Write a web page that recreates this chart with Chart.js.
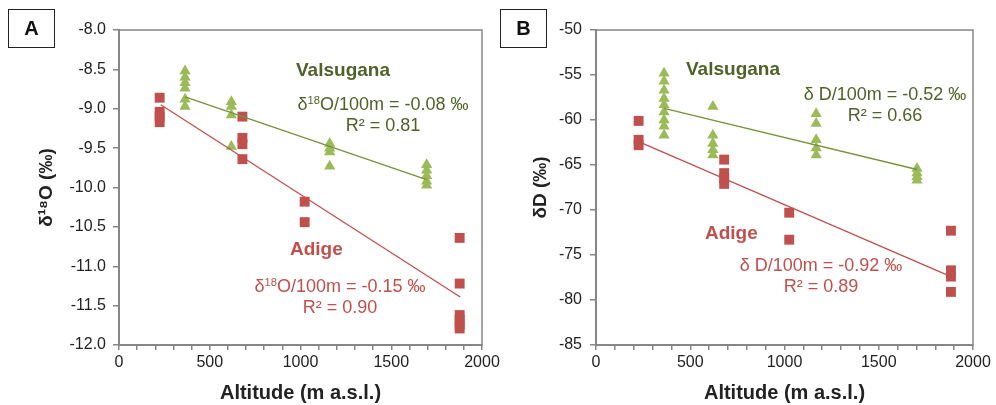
<!DOCTYPE html>
<html>
<head>
<meta charset="utf-8">
<script src="https://cdn.jsdelivr.net/npm/chart.js@4.4.0/dist/chart.umd.min.js"></script>
<style>
  body { margin: 0; background: #fff; font-family: "Liberation Sans", Arial, sans-serif; }
  #wrap { position: relative; width: 996px; height: 405px; overflow: hidden; }
  canvas { position: absolute; top: 0; }
  .tag { position: absolute; top: 9px; width: 47px; height: 39px; box-sizing: border-box; border: 1px solid #222;
         font-weight: bold; font-size: 20px; line-height: 37px; text-align: center; color: #111; }
  .name { position: absolute; font-weight: bold; font-size: 19px; line-height: 20px; white-space: nowrap; }
  .note { position: absolute; font-size: 18px; line-height: 21px; white-space: nowrap; text-align: center; transform: translateX(-50%); }
  .note sup { font-size: 0.62em; line-height: 0; vertical-align: 0.55em; }
  .green { color: #4f6228; }
  .red { color: #c0504d; }
</style>
</head>
<body>
<div id="wrap">
  <canvas id="chartA" width="520" height="405" style="left:0"></canvas>
  <canvas id="chartB" width="498" height="405" style="left:498px"></canvas>

  <div class="tag" style="left:8px">A</div>
  <div class="tag" style="left:500px">B</div>

  <div class="name green" style="left:296px; top:60px">Valsugana</div>
  <div class="note green" style="left:383px; top:94px">δ<sup>18</sup>O/100m = -0.08 ‰<br>R² = 0.81</div>
  <div class="name red" style="left:290px; top:239px">Adige</div>
  <div class="note red" style="left:340px; top:276px">δ<sup>18</sup>O/100m = -0.15 ‰<br>R² = 0.90</div>

  <div class="name green" style="left:686px; top:59px">Valsugana</div>
  <div class="note green" style="left:885px; top:84px">δ D/100m = -0.52 ‰<br>R² = 0.66</div>
  <div class="name red" style="left:705px; top:223px">Adige</div>
  <div class="note red" style="left:821px; top:255px">δ D/100m = -0.92 ‰<br>R² = 0.89</div>
</div>

<script>
// panel A: delta 18O
const adigeAltA = [224, 224, 224, 224, 680, 680, 680, 680, 1023, 1023, 1877, 1877, 1877, 1877, 1877, 1877];
const adigeO18 = [-8.86, -9.04, -9.1, -9.17, -9.1, -9.37, -9.45, -9.64, -10.18, -10.44, -10.64, -11.22, -11.62, -11.68, -11.74, -11.79];
const valsAltA = [364, 364, 364, 364, 364, 364, 619, 619, 619, 619, 1161, 1161, 1161, 1161, 1695, 1695, 1695, 1695, 1695];
const valsO18 = [-8.52, -8.6, -8.67, -8.74, -8.88, -8.97, -8.91, -8.97, -9.08, -9.48, -9.44, -9.5, -9.55, -9.73, -9.71, -9.78, -9.85, -9.92, -9.97];
const adigeTrendA = { x: [230, 1880], y: [-8.95, -11.39] };
const valsTrendA = { x: [364, 1695], y: [-8.85, -9.9] };

// panel B: delta D
const adigeAltB = [226, 226, 226, 680, 680, 680, 680, 1025, 1025, 1883, 1883, 1883, 1883];
const adigeD = [-60.1, -62.2, -62.8, -64.4, -65.9, -66.5, -67.1, -70.3, -73.3, -72.3, -76.7, -77.4, -79.1];
const valsAltB = [361, 361, 361, 361, 361, 361, 361, 361, 361, 620, 620, 620, 620, 620, 1168, 1168, 1168, 1168, 1168, 1703, 1703, 1703, 1703];
const valsD = [-54.8, -55.7, -56.7, -57.6, -58.3, -59.1, -60.0, -60.7, -61.7, -58.5, -61.7, -62.6, -63.3, -63.9, -59.3, -60.4, -62.2, -63.1, -63.9, -65.4, -65.9, -66.3, -66.7];
const adigeTrendB = { x: [226, 1883], y: [-62.4, -77.4] };
const valsTrendB = { x: [361, 1703], y: [-58.7, -65.5] };

const RED = '#c0504d';
const GREEN = '#9bbb59';
const GREEN_LINE = '#77933c';
const AXIS = '#868686';
const FONT = '"Liberation Sans", Arial, sans-serif';

const pts = (xs, ys) => xs.map((x, i) => ({ x: x, y: ys[i] }));

// grey box round the plot area
const frame = {
    id: 'frame',
    beforeDatasetsDraw(chart) {
        const a = chart.chartArea;
        const ctx = chart.ctx;
        ctx.save();
        ctx.strokeStyle = AXIS;
        ctx.lineWidth = 1.5;
        ctx.strokeRect(a.left, a.top, a.right - a.left, a.bottom - a.top);
        ctx.restore();
    }
};

function makeChart(id, o) {
    const ctx = document.getElementById(id).getContext('2d');
    return new Chart(ctx, {
        type: 'scatter',
        data: {
            datasets: [
                { data: pts(o.trendV.x, o.trendV.y), showLine: true, borderColor: GREEN_LINE, borderWidth: 1.3, pointRadius: 0 },
                { data: pts(o.trendR.x, o.trendR.y), showLine: true, borderColor: RED, borderWidth: 1.3, pointRadius: 0 },
                { data: pts(o.valsX, o.valsY), pointStyle: 'triangle', pointRadius: 6.5, backgroundColor: GREEN, borderWidth: 0 },
                { data: pts(o.adigeX, o.adigeY), pointStyle: 'rect', pointRadius: 7, backgroundColor: RED, borderWidth: 0 }
            ]
        },
        options: {
            responsive: false,
            animation: false,
            events: [],
            layout: { padding: { left: 0, top: 30, right: o.padRight, bottom: 0 } },
            plugins: { legend: { display: false }, tooltip: { enabled: false } },
            scales: {
                x: {
                    type: 'linear', min: 0, max: 2000,
                    border: { color: AXIS, width: 2 },
                    grid: { drawOnChartArea: false, tickLength: 5, color: AXIS, lineWidth: 1.5 },
                    ticks: {
                        stepSize: 100, autoSkip: false, maxRotation: 0, padding: 3,
                        color: '#222', font: { family: FONT, size: 16 },
                        callback: v => (v % 500 === 0 ? v : '')
                    },
                    title: { display: true, text: 'Altitude (m a.s.l.)', color: '#222',
                             font: { family: FONT, size: 20, weight: 'bold' }, padding: { top: 0, bottom: 0 } },
                    afterFit(s) { s.height = 60; s.paddingLeft = 0; s.paddingRight = 0; }
                },
                y: {
                    type: 'linear', min: o.yMin, max: o.yMax,
                    border: { color: AXIS, width: 2 },
                    grid: { drawOnChartArea: false, tickLength: 6, color: AXIS, lineWidth: 1.5 },
                    ticks: {
                        stepSize: o.yStep, padding: o.yPad,
                        color: '#222', font: { family: FONT, size: 16 },
                        callback: v => v.toFixed(o.dec)
                    },
                    title: { display: true, text: o.yTitle, color: '#222',
                             font: { family: FONT, size: 19, weight: 'bold' }, padding: { top: o.titleOff, bottom: 0 } },
                    afterFit(s) { s.width = o.yWidth; s.paddingTop = 0; s.paddingBottom = 0; }
                }
            }
        },
        plugins: [frame]
    });
}

makeChart('chartA', {
    adigeX: adigeAltA, adigeY: adigeO18, valsX: valsAltA, valsY: valsO18,
    trendR: adigeTrendA, trendV: valsTrendA,
    yMin: -12, yMax: -8, yStep: 0.5, dec: 1, yTitle: 'δ¹⁸O (‰)',
    yWidth: 119, yPad: 7, titleOff: 35, padRight: 38
});

makeChart('chartB', {
    adigeX: adigeAltB, adigeY: adigeD, valsX: valsAltB, valsY: valsD,
    trendR: adigeTrendB, trendV: valsTrendB,
    yMin: -85, yMax: -50, yStep: 5, dec: 0, yTitle: 'δD (‰)',
    yWidth: 98, yPad: 8, titleOff: 31, padRight: 23
});
</script>
</body>
</html>
